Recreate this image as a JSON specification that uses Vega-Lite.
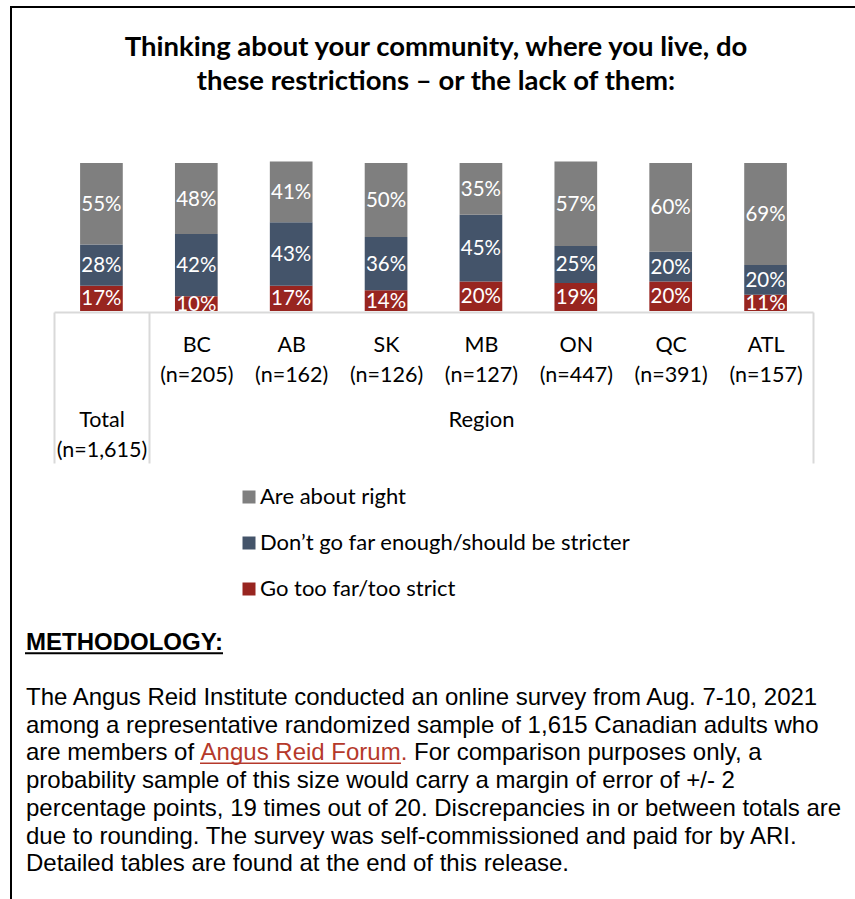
{
  "$schema": "https://vega.github.io/schema/vega-lite/v6.json",
  "width": 850,
  "height": 900,
  "autosize": {"type": "none"},
  "padding": {"left": 11, "top": 7, "right": -6, "bottom": -8},
  "background": "white",
  "config": {"view": {"stroke": "#000000", "strokeWidth": 2}, "font": "Lato"},
  "title": {
    "text": ["Thinking about your community, where you live, do", "these restrictions – or the lack of them:"],
    "font": "Lato", "fontSize": 27.5, "fontWeight": "bold", "color": "#000000",
    "lineHeight": 34, "anchor": "middle", "frame": "group", "offset": -88
  },
  "datasets": {
    "survey": [
      {"cat": "Total (n=1,615)", "response": "Go too far/too strict", "pct": 0.17},
      {"cat": "Total (n=1,615)", "response": "Don’t go far enough/should be stricter", "pct": 0.28},
      {"cat": "Total (n=1,615)", "response": "Are about right", "pct": 0.55},
      {"cat": "BC (n=205)", "response": "Go too far/too strict", "pct": 0.10},
      {"cat": "BC (n=205)", "response": "Don’t go far enough/should be stricter", "pct": 0.42},
      {"cat": "BC (n=205)", "response": "Are about right", "pct": 0.48},
      {"cat": "AB (n=162)", "response": "Go too far/too strict", "pct": 0.17},
      {"cat": "AB (n=162)", "response": "Don’t go far enough/should be stricter", "pct": 0.43},
      {"cat": "AB (n=162)", "response": "Are about right", "pct": 0.41},
      {"cat": "SK (n=126)", "response": "Go too far/too strict", "pct": 0.14},
      {"cat": "SK (n=126)", "response": "Don’t go far enough/should be stricter", "pct": 0.36},
      {"cat": "SK (n=126)", "response": "Are about right", "pct": 0.50},
      {"cat": "MB (n=127)", "response": "Go too far/too strict", "pct": 0.20},
      {"cat": "MB (n=127)", "response": "Don’t go far enough/should be stricter", "pct": 0.45},
      {"cat": "MB (n=127)", "response": "Are about right", "pct": 0.35},
      {"cat": "ON (n=447)", "response": "Go too far/too strict", "pct": 0.19},
      {"cat": "ON (n=447)", "response": "Don’t go far enough/should be stricter", "pct": 0.25},
      {"cat": "ON (n=447)", "response": "Are about right", "pct": 0.57},
      {"cat": "QC (n=391)", "response": "Go too far/too strict", "pct": 0.20},
      {"cat": "QC (n=391)", "response": "Don’t go far enough/should be stricter", "pct": 0.20},
      {"cat": "QC (n=391)", "response": "Are about right", "pct": 0.60},
      {"cat": "ATL (n=157)", "response": "Go too far/too strict", "pct": 0.11},
      {"cat": "ATL (n=157)", "response": "Don’t go far enough/should be stricter", "pct": 0.20},
      {"cat": "ATL (n=157)", "response": "Are about right", "pct": 0.69}
    ],
    "notes": [
      {"row": 0, "part": "heading", "text": "METHODOLOGY:"},
      {"row": 2, "part": "body", "text": "The Angus Reid Institute conducted an online survey from Aug. 7-10, 2021"},
      {"row": 3, "part": "body", "text": "among a representative randomized sample of 1,615 Canadian adults who"},
      {"row": 4, "part": "body", "text": "are members of"},
      {"row": 4, "part": "link", "text": "Angus Reid Forum."},
      {"row": 4, "part": "tail", "text": "For comparison purposes only, a"},
      {"row": 5, "part": "body", "text": "probability sample of this size would carry a margin of error of +/- 2"},
      {"row": 6, "part": "body", "text": "percentage points, 19 times out of 20. Discrepancies in or between totals are"},
      {"row": 7, "part": "body", "text": "due to rounding. The survey was self-commissioned and paid for by ARI."},
      {"row": 8, "part": "body", "text": "Detailed tables are found at the end of this release."}
    ]
  },
  "layer": [
    {
      "data": {"name": "survey"},
      "mark": {"type": "bar", "width": {"band": 0.45}},
      "encoding": {
        "x": {
          "field": "cat", "type": "nominal",
          "sort": ["Total (n=1,615)", "BC (n=205)", "AB (n=162)", "SK (n=126)", "MB (n=127)", "ON (n=447)", "QC (n=391)", "ATL (n=157)"],
          "scale": {"range": [43, 802], "paddingInner": 0, "paddingOuter": 0},
          "axis": {
            "title": "Region",
            "titleX": 470, "titleY": 107, "titleAlign": "center", "titleBaseline": "middle", "titleAngle": 0,
            "titleFont": "Lato", "titleFontSize": 22, "titleFontWeight": "normal", "titleColor": "#000000",
            "offset": -595,
            "domainColor": "#d9d9d9", "domainWidth": 2,
            "tickBand": "extent", "tickSize": 151, "tickWidth": 2,
            "tickColor": {"condition": {"test": "datum.extra || datum.value === 'Total (n=1,615)' || datum.value === 'ATL (n=157)'", "value": "#d9d9d9"}, "value": "rgba(0,0,0,0)"},
            "labelExpr": "!datum.value ? '' : split(datum.value, ' ')",
            "labelFont": "Lato", "labelFontSize": 21.5, "labelColor": "#000000", "labelLineHeight": 30,
            "labelPadding": {"condition": {"test": "datum.value === 'Total (n=1,615)'", "value": -54}, "value": -129},
            "labelAngle": 0, "labelBaseline": "top",
            "labelOverlap": false, "labelBound": false, "labelFlush": false, "labelLimit": 300,
            "grid": false
          }
        },
        "y": {
          "field": "pct", "type": "quantitative", "stack": "zero",
          "scale": {"domain": [0, 1], "range": [304, 156], "nice": false},
          "axis": null
        },
        "color": {
          "field": "response", "type": "nominal",
          "scale": {
            "domain": ["Are about right", "Don’t go far enough/should be stricter", "Go too far/too strict"],
            "range": ["#7f7f7f", "#44546a", "#982520"]
          },
          "legend": {
            "orient": "none", "legendX": 227, "legendY": 479, "title": null, "direction": "vertical",
            "symbolType": "square", "symbolSize": 169, "symbolStrokeWidth": 0, "symbolOpacity": 1,
            "labelFont": "Lato", "labelFontSize": 22, "labelColor": "#000000", "labelOffset": 0,
            "rowPadding": 24, "labelLimit": 600, "padding": 0
          }
        },
        "order": {"field": "response", "sort": "descending"}
      }
    },
    {
      "data": {"name": "survey"},
      "transform": [
        {"stack": "pct", "groupby": ["cat"], "sort": [{"field": "response", "order": "descending"}], "as": ["p0", "p1"]},
        {"fold": ["p0", "p1"], "as": ["edge", "value"]}
      ],
      "mark": {"type": "text", "color": "#ffffff", "font": "Lato", "fontSize": 20.5, "baseline": "middle", "dy": 1},
      "encoding": {
        "x": {"field": "cat", "type": "nominal", "sort": ["Total (n=1,615)", "BC (n=205)", "AB (n=162)", "SK (n=126)", "MB (n=127)", "ON (n=447)", "QC (n=391)", "ATL (n=157)"]},
        "y": {
          "aggregate": "mean", "field": "value", "type": "quantitative", "stack": null,
          "scale": {"domain": [0, 1], "range": [304, 156], "nice": false},
          "axis": null
        },
        "detail": {"field": "response", "type": "nominal"},
        "text": {"field": "pct", "type": "quantitative", "format": ".0%"}
      }
    },
    {
      "data": {"name": "notes"},
      "transform": [{"filter": "datum.part === 'body'"}],
      "mark": {"type": "text", "align": "left", "baseline": "alphabetic", "font": "Liberation Sans", "fontSize": 24, "color": "#000000", "dx": -410},
      "encoding": {
        "y": {"field": "row", "type": "quantitative", "scale": {"domain": [0, 8], "range": [642.6, 864.2]}, "axis": null},
        "text": {"field": "text"}
      }
    },
    {
      "data": {"name": "notes"},
      "transform": [{"filter": "datum.part === 'heading'"}],
      "mark": {"type": "text", "align": "left", "baseline": "alphabetic", "font": "Liberation Sans", "fontSize": 24, "fontWeight": "bold", "color": "#000000", "dx": -410},
      "encoding": {
        "y": {"field": "row", "type": "quantitative", "scale": {"domain": [0, 8], "range": [642.6, 864.2]}, "axis": null},
        "text": {"field": "text"}
      }
    },
    {
      "data": {"name": "notes"},
      "transform": [{"filter": "datum.part === 'heading'"}],
      "mark": {"type": "rule", "color": "#000000", "strokeWidth": 2, "strokeDash": [0, 638, 198, 2000]},
      "encoding": {
        "y": {"field": "row", "type": "quantitative", "scale": {"domain": [0, 8], "range": [646.3, 867.9]}, "axis": null}
      }
    },
    {
      "data": {"name": "notes"},
      "transform": [{"filter": "datum.part === 'link'"}],
      "mark": {"type": "text", "align": "left", "baseline": "alphabetic", "font": "Liberation Sans", "fontSize": 24, "color": "#b5392b", "dx": -235.4},
      "encoding": {
        "y": {"field": "row", "type": "quantitative", "scale": {"domain": [0, 8], "range": [642.6, 864.2]}, "axis": null},
        "text": {"field": "text"}
      }
    },
    {
      "data": {"name": "notes"},
      "transform": [{"filter": "datum.part === 'link'"}],
      "mark": {"type": "rule", "color": "#b5392b", "strokeWidth": 1.5, "strokeDash": [0, 460, 201, 2000]},
      "encoding": {
        "y": {"field": "row", "type": "quantitative", "scale": {"domain": [0, 8], "range": [645.5, 867.1]}, "axis": null}
      }
    },
    {
      "data": {"name": "notes"},
      "transform": [{"filter": "datum.part === 'tail'"}],
      "mark": {"type": "text", "align": "left", "baseline": "alphabetic", "font": "Liberation Sans", "fontSize": 24, "color": "#000000", "dx": -22},
      "encoding": {
        "y": {"field": "row", "type": "quantitative", "scale": {"domain": [0, 8], "range": [642.6, 864.2]}, "axis": null},
        "text": {"field": "text"}
      }
    }
  ],
  "resolve": {"scale": {"y": "independent"}}
}
